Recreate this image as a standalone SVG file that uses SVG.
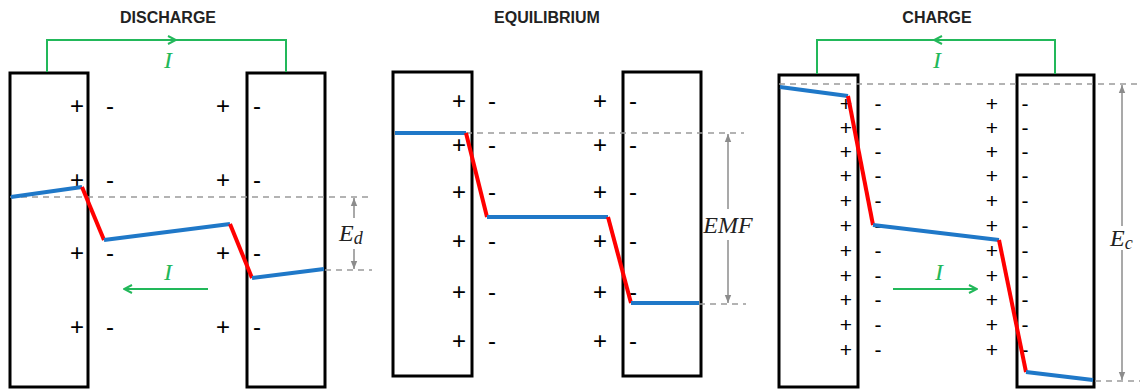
<svg xmlns="http://www.w3.org/2000/svg" width="1144" height="389" viewBox="0 0 1144 389">
<style>
.title{font-family:"Liberation Sans",Arial,sans-serif;font-weight:bold;font-size:16px;fill:#222;text-anchor:middle}
.el{fill:#fff;stroke:#000;stroke-width:3}
.sg{font-family:"Liberation Sans",Arial,sans-serif;font-size:24px;fill:#000;text-anchor:middle}
.sg2{font-family:"Liberation Sans",Arial,sans-serif;font-size:21px;fill:#000;text-anchor:middle}
.wire{fill:none;stroke:#22b85a;stroke-width:2}
.cur{font-family:"Liberation Serif",serif;font-style:italic;font-size:24px;fill:#22b85a;text-anchor:middle}
.blue{fill:none;stroke:#1f78c8;stroke-width:4}
.red{fill:none;stroke:#ff0000;stroke-width:4}
.dash{fill:none;stroke:#9a9a9a;stroke-width:1.5;stroke-dasharray:6 5}
.dim{fill:none;stroke:#8c8c8c;stroke-width:1.5}
.lab{font-family:"Liberation Serif",serif;font-style:italic;font-size:24px;fill:#222}
</style>
<defs>
<marker id="gA" viewBox="0 0 10 10" refX="9" refY="5" markerWidth="10" markerHeight="10" markerUnits="userSpaceOnUse" orient="auto">
<path d="M1,1 L9,5 L1,9" fill="none" stroke="#22b85a" stroke-width="2"/>
</marker>
<marker id="dA" viewBox="0 0 10 10" refX="10" refY="5" markerWidth="8" markerHeight="8" markerUnits="userSpaceOnUse" orient="auto">
<path d="M0,1 L10,5 L0,9 Z" fill="#8c8c8c"/>
</marker>
</defs>
<rect width="1144" height="389" fill="#fff"/>

<text class="title" x="168" y="23">DISCHARGE</text>
<text class="title" x="547" y="23">EQUILIBRIUM</text>
<text class="title" x="937" y="23">CHARGE</text>

<!-- DISCHARGE -->
<g id="discharge-anode">
<rect class="el" x="10" y="73" width="78" height="314"/>
<text class="sg" x="77" y="114">+</text><text class="sg" x="77" y="188">+</text><text class="sg" x="77" y="261">+</text><text class="sg" x="77" y="335">+</text>
<text class="sg" x="110" y="114">-</text><text class="sg" x="110" y="188">-</text><text class="sg" x="110" y="261">-</text><text class="sg" x="110" y="335">-</text>
</g>
<g id="discharge-cathode">
<rect class="el" x="247" y="73" width="78" height="314"/>
<text class="sg" x="223" y="114">+</text><text class="sg" x="223" y="188">+</text><text class="sg" x="223" y="261">+</text><text class="sg" x="223" y="335">+</text>
<text class="sg" x="257" y="114">-</text><text class="sg" x="257" y="188">-</text><text class="sg" x="257" y="261">-</text><text class="sg" x="257" y="335">-</text>
</g>

<!-- EQUILIBRIUM -->
<g id="equilibrium-anode">
<rect class="el" x="393" y="72" width="79" height="304"/>
<text class="sg" x="459" y="109">+</text><text class="sg" x="459" y="153">+</text><text class="sg" x="459" y="200">+</text><text class="sg" x="459" y="249">+</text><text class="sg" x="459" y="300">+</text><text class="sg" x="459" y="349">+</text>
<text class="sg" x="492" y="109">-</text><text class="sg" x="492" y="153">-</text><text class="sg" x="492" y="200">-</text><text class="sg" x="492" y="249">-</text><text class="sg" x="492" y="300">-</text><text class="sg" x="492" y="349">-</text>
</g>
<g id="equilibrium-cathode">
<rect class="el" x="623" y="72" width="78" height="304"/>
<text class="sg" x="600" y="109">+</text><text class="sg" x="600" y="153">+</text><text class="sg" x="600" y="200">+</text><text class="sg" x="600" y="249">+</text><text class="sg" x="600" y="300">+</text><text class="sg" x="600" y="349">+</text>
<text class="sg" x="633" y="109">-</text><text class="sg" x="633" y="153">-</text><text class="sg" x="633" y="200">-</text><text class="sg" x="633" y="249">-</text><text class="sg" x="633" y="300">-</text><text class="sg" x="633" y="349">-</text>
</g>

<!-- CHARGE -->
<g id="charge-anode">
<rect class="el" x="779" y="75" width="79" height="312"/>
<text class="sg2" x="846" y="111">+</text><text class="sg2" x="846" y="135">+</text><text class="sg2" x="846" y="159">+</text><text class="sg2" x="846" y="183">+</text><text class="sg2" x="846" y="208">+</text><text class="sg2" x="846" y="233">+</text><text class="sg2" x="846" y="258">+</text><text class="sg2" x="846" y="283">+</text><text class="sg2" x="846" y="307">+</text><text class="sg2" x="846" y="332">+</text><text class="sg2" x="846" y="357">+</text>
<text class="sg2" x="878" y="111">-</text><text class="sg2" x="878" y="135">-</text><text class="sg2" x="878" y="159">-</text><text class="sg2" x="878" y="183">-</text><text class="sg2" x="878" y="208">-</text><text class="sg2" x="878" y="233">-</text><text class="sg2" x="878" y="258">-</text><text class="sg2" x="878" y="283">-</text><text class="sg2" x="878" y="307">-</text><text class="sg2" x="878" y="332">-</text><text class="sg2" x="878" y="357">-</text>
</g>
<g id="charge-cathode">
<rect class="el" x="1017" y="75" width="77" height="312"/>
<text class="sg2" x="992" y="111">+</text><text class="sg2" x="992" y="135">+</text><text class="sg2" x="992" y="159">+</text><text class="sg2" x="992" y="183">+</text><text class="sg2" x="992" y="208">+</text><text class="sg2" x="992" y="233">+</text><text class="sg2" x="992" y="258">+</text><text class="sg2" x="992" y="283">+</text><text class="sg2" x="992" y="307">+</text><text class="sg2" x="992" y="332">+</text><text class="sg2" x="992" y="357">+</text>
<text class="sg2" x="1025" y="111">-</text><text class="sg2" x="1025" y="135">-</text><text class="sg2" x="1025" y="159">-</text><text class="sg2" x="1025" y="183">-</text><text class="sg2" x="1025" y="208">-</text><text class="sg2" x="1025" y="233">-</text><text class="sg2" x="1025" y="258">-</text><text class="sg2" x="1025" y="283">-</text><text class="sg2" x="1025" y="307">-</text><text class="sg2" x="1025" y="332">-</text><text class="sg2" x="1025" y="357">-</text>
</g>

<g id="connectors">
<!-- discharge -->
<path class="wire" d="M47,72 V40 H286 V72"/>
<line class="wire" x1="150" y1="40" x2="176" y2="40" marker-end="url(#gA)"/>
<text class="cur" x="168" y="68">I</text>
<line class="wire" x1="208" y1="289" x2="124" y2="289" marker-end="url(#gA)"/>
<text class="cur" x="168" y="280">I</text>
<path class="dash" d="M10,197 H372"/>
<path class="dash" d="M325,270 H372"/>
<polyline class="blue" points="11,197 82,187"/>
<polyline class="red" points="82,187 104,240"/>
<polyline class="blue" points="104,240 230,224"/>
<polyline class="red" points="230,224 252,278"/>
<polyline class="blue" points="252,278 324,269"/>
<line class="dim" x1="354" y1="218" x2="354" y2="198" marker-end="url(#dA)"/>
<line class="dim" x1="354" y1="249" x2="354" y2="269" marker-end="url(#dA)"/>
<text class="lab" x="339" y="241">E<tspan font-size="18" dy="3">d</tspan></text>

<!-- equilibrium -->
<path class="dash" d="M466,133 H744"/>
<path class="dash" d="M699,304 H746"/>
<polyline class="blue" points="395,133 466,133"/>
<polyline class="red" points="466,133 487,217"/>
<polyline class="blue" points="487,217 608,217"/>
<polyline class="red" points="608,217 631,303"/>
<polyline class="blue" points="631,303 699,303"/>
<line class="dim" x1="728" y1="209" x2="728" y2="134" marker-end="url(#dA)"/>
<line class="dim" x1="728" y1="240" x2="728" y2="303" marker-end="url(#dA)"/>
<text class="lab" x="728" y="233" text-anchor="middle">EMF</text>

<!-- charge -->
<path class="wire" d="M817,74 V40 H1055 V74"/>
<line class="wire" x1="960" y1="40" x2="934" y2="40" marker-end="url(#gA)"/>
<text class="cur" x="937" y="68">I</text>
<line class="wire" x1="893" y1="289" x2="977" y2="289" marker-end="url(#gA)"/>
<text class="cur" x="939" y="280">I</text>
<path class="dash" d="M779,84 H1138"/>
<path class="dash" d="M1095,381 H1140"/>
<polyline class="blue" points="780,87 848,96"/>
<polyline class="red" points="848,96 873,225"/>
<polyline class="blue" points="873,225 999,240"/>
<polyline class="red" points="999,240 1026,372"/>
<polyline class="blue" points="1026,372 1093,380"/>
<line class="dim" x1="1122" y1="226" x2="1122" y2="85" marker-end="url(#dA)"/>
<line class="dim" x1="1122" y1="250" x2="1122" y2="380" marker-end="url(#dA)"/>
<text class="lab" x="1110" y="246">E<tspan font-size="18" dy="3">c</tspan></text>
</g>
</svg>
